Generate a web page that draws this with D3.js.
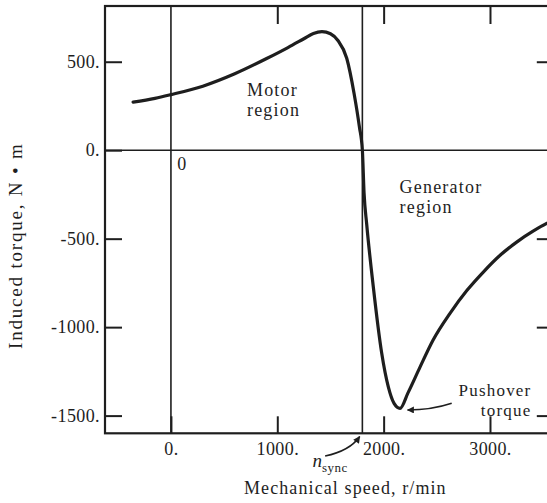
<!DOCTYPE html>
<html>
<head>
<meta charset="utf-8">
<script src="https://cdn.jsdelivr.net/npm/d3@7"></script>
<style>
  html, body { margin: 0; padding: 0; background: #fff; }
  svg { display: block; }
  text { font-family: "Liberation Serif", "Times New Roman", serif; fill: #1e1e1e; }
</style>
</head>
<body>
<svg id="chart" width="547" height="503"></svg>
<script>
// ---- data ----
const speed  = [-356, -150, 0, 300, 600, 900, 1100, 1250, 1340, 1420, 1500, 1570, 1653, 1722, 1772, 1800, 1816, 1841, 1903, 1982, 2044, 2098, 2154, 2230, 2342, 2464, 2624, 2784, 2935, 3095, 3254, 3405, 3537, 3600];
const torque = [272, 293, 314, 362, 432, 518, 580, 630, 660, 670, 658, 620, 520, 321, 132, 0, -243, -420, -773, -1148, -1338, -1431, -1459, -1370, -1226, -1074, -922, -792, -690, -594, -518, -458, -413, -396];
const yTicks = [500, 0, -500, -1000, -1500];
const yTickLabels = ["500.", "0.", "-500.", "-1000.", "-1500."];
const xTicks = [0, 1000, 2000, 3000];
const xTickLabels = ["0.", "1000.", "2000.", "3000."];
const nSync = 1800;

// ---- layout ----
const svg = d3.select("#chart");
const L = 105, R = 553.8, T = 6, B = 433.3;
const x = d3.scaleLinear().domain([-620, 3600]).range([L, R]);
const y = d3.scaleLinear().domain([-1600, 815]).range([B, T]);
const ink = "#1e1e1e";

// reference lines
svg.append("line").attr("x1", x(0)).attr("x2", x(0)).attr("y1", T).attr("y2", B)
  .attr("stroke", ink).attr("stroke-width", 1.6);
svg.append("line").attr("x1", x(nSync)).attr("x2", x(nSync)).attr("y1", T).attr("y2", B)
  .attr("stroke", ink).attr("stroke-width", 1.6);
svg.append("line").attr("x1", L).attr("x2", R).attr("y1", y(0)).attr("y2", y(0))
  .attr("stroke", ink).attr("stroke-width", 1.6);

// axes
function styleAxis(g) {
  g.select(".domain").remove();
  g.selectAll(".tick line").attr("stroke", ink).attr("stroke-width", 2);
  g.selectAll(".tick text").style("font-size", "18px").style("letter-spacing", "0.4px")
    .attr("fill", ink).style("font-family", '"Liberation Serif", serif');
}
const tickIdx = v => yTicks.indexOf(v);
svg.append("g").attr("transform", `translate(${L},0)`)
  .call(d3.axisLeft(y).tickValues(yTicks).tickSizeInner(-17).tickSizeOuter(0).tickPadding(5)
    .tickFormat(v => yTickLabels[tickIdx(v)]))
  .call(styleAxis);
svg.append("g").attr("transform", `translate(${R},0)`)
  .call(d3.axisRight(y).tickValues(yTicks.filter(v => v !== 0)).tickSizeInner(-17).tickSizeOuter(0).tickFormat(""))
  .call(styleAxis);
svg.append("g").attr("transform", `translate(0,${B})`)
  .call(d3.axisBottom(x).tickValues(xTicks).tickSizeInner(-17).tickSizeOuter(0).tickPadding(9)
    .tickFormat(v => xTickLabels[xTicks.indexOf(v)]))
  .call(styleAxis);
svg.append("g").attr("transform", `translate(0,${T})`)
  .call(d3.axisTop(x).tickValues(xTicks.filter(v => v !== 0)).tickSizeInner(-18).tickSizeOuter(0).tickFormat(""))
  .call(styleAxis);

// frame
svg.append("rect").attr("x", L).attr("y", T).attr("width", R - L).attr("height", B - T)
  .attr("fill", "none").attr("stroke", ink).attr("stroke-width", 2.2);

// curve
const pts = speed.map((s, i) => [s, torque[i]]);
svg.append("path").datum(pts)
  .attr("fill", "none").attr("stroke", ink).attr("stroke-width", 3.2)
  .attr("stroke-linejoin", "round").attr("stroke-linecap", "round")
  .attr("d", d3.line().x(d => x(d[0])).y(d => y(d[1])).curve(d3.curveMonotoneX));

// annotations text
function label(xv, yv, str, opts = {}) {
  return svg.append("text").attr("x", x(xv)).attr("y", y(yv))
    .style("font-size", (opts.size || 18) + "px")
    .style("letter-spacing", (opts.ls != null ? opts.ls : 1.2) + "px")
    .attr("text-anchor", opts.anchor || "start")
    .text(str);
}
label(715, 307, "Motor");
label(715, 194, "region");
label(2150, -243, "Generator");
label(2150, -356, "region");
label(3390, -1388, "Pushover", {anchor: "end", ls: 1.2, size: 17});
label(3390, -1504, "torque", {anchor: "end", ls: 1.2, size: 17});
label(60, -113, "0", {size: 18, ls: 0});

// n_sync label
const ns = svg.append("text").attr("x", x(1330)).attr("y", y(-1790)).style("font-size", "19px");
ns.append("tspan").text("n").style("font-style", "italic");
ns.append("tspan").attr("dy", 5).style("font-size", "13px").style("letter-spacing", "0.5px").text("sync");

// axis titles
svg.append("text").attr("x", x(1640)).attr("y", y(-1945)).attr("text-anchor", "middle")
  .style("font-size", "18px").style("letter-spacing", "1.1px").text("Mechanical speed, r/min");
svg.append("text").attr("transform", `translate(22,${y(-540)}) rotate(-90)`).attr("text-anchor", "middle")
  .style("font-size", "19px").style("letter-spacing", "1.8px").text("Induced torque, N \u2022 m");

// arrows
svg.append("defs").append("marker").attr("id", "ah").attr("viewBox", "0 0 10 10")
  .attr("refX", 9).attr("refY", 5).attr("markerWidth", 9).attr("markerHeight", 7)
  .attr("markerUnits", "userSpaceOnUse").attr("orient", "auto")
  .append("path").attr("d", "M0,0 L10,5 L0,10 z").attr("fill", ink);

const p = d3.path();
p.moveTo(x(1450), y(-1728));
p.quadraticCurveTo(x(1680), y(-1700), x(1775), y(-1618));
svg.append("path").attr("d", p.toString()).attr("fill", "none").attr("stroke", ink)
  .attr("stroke-width", 1.6).attr("marker-end", "url(#ah)");

const q = d3.path();
q.moveTo(x(2640), y(-1430));
q.quadraticCurveTo(x(2450), y(-1468), x(2225), y(-1468));
svg.append("path").attr("d", q.toString()).attr("fill", "none").attr("stroke", ink)
  .attr("stroke-width", 1.6).attr("marker-end", "url(#ah)");
</script>
</body>
</html>
